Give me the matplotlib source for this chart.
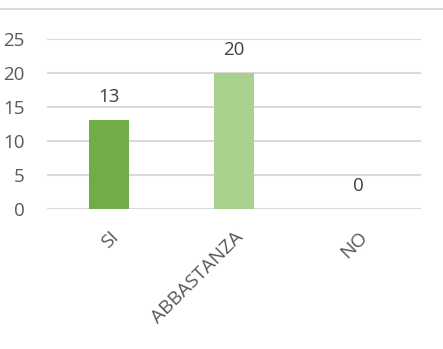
import matplotlib
matplotlib.use("Agg")
import matplotlib.pyplot as plt
from matplotlib.lines import Line2D

categories = ["SI", "ABBASTANZA", "NO"]
values = [13, 20, 0]
colors = ["#70AD47", "#A9D18E", "#A9D18E"]
yticks = [0, 5, 10, 15, 20, 25]

plt.rcParams['font.family'] = ['Open Sans', 'DejaVu Sans']
txt = "#595959"

fig = plt.figure(figsize=(4.43, 3.49), dpi=100)
ax = fig.add_axes([47/443, (349-208.7)/349, (421-47)/443, (208.7-38.5)/349])

x = list(range(len(categories)))
bars = ax.bar(x, values, width=0.32, color=colors, zorder=3)
ax.set_xlim(-0.5, len(categories) - 0.5)
ax.set_ylim(0, 25)
ax.set_yticks(yticks)
ax.set_yticklabels([str(t) for t in yticks], fontsize=13.5, color=txt)
ax.set_xticks(x)
ax.set_xticklabels(categories, fontsize=14, color=txt, rotation=45,
                   ha='right', rotation_mode='anchor')
ax.tick_params(axis='both', length=0)
ax.tick_params(axis='y', pad=16)
ax.tick_params(axis='x', pad=14)
ax.grid(axis='y', color='#D9D9D9', linewidth=1.5, zorder=0)
for s in ax.spines.values():
    s.set_visible(False)

for xi, v in zip(x, values):
    ax.annotate(str(v), (xi, v), xytext=(0, 10), textcoords='offset points',
                ha='center', va='bottom', fontsize=13.5, color="#404040")

fig.add_artist(Line2D([0, 1], [1 - 9/349, 1 - 9/349], transform=fig.transFigure,
                      color='#D9D9D9', linewidth=1.5))

fig.savefig("out.png", dpi=100)
